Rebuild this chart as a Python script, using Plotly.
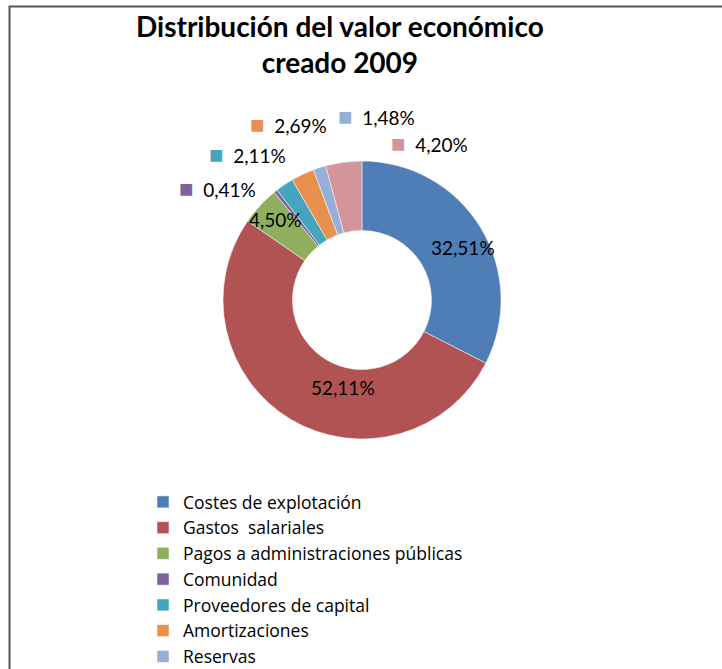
import plotly.graph_objects as go

# ---- data ----
categories = [
    "Costes de explotación",
    "Gastos  salariales",
    "Pagos a administraciones públicas",
    "Comunidad",
    "Proveedores de capital",
    "Amortizaciones",
    "Reservas",
    "Dividendos",
]
values = [32.51, 52.11, 4.50, 0.41, 2.11, 2.69, 1.48, 4.20]
colors = ["#4F7EB7", "#B05352", "#8EB05E", "#7D62A0", "#45A5BC", "#E8914F", "#95AFD8", "#D39599"]
title_text = "Distribución del valor económico<br>creado 2009"

W, H = 722, 669
FONT = "Lato"

def fmt(v):
    return f"{v:.2f}".replace(".", ",") + "%"

# label layout (pixel positions from top-left), inside vs outside with key
label_pos = [(463, 247), (343, 387), (275, 219), (217, 187), (247, 153), (288, 124), (376, 115), (429, 142)]
label_key = [False, False, False, True, True, True, True, True]

cx, cy, r = 362, 300, 139

fig = go.Figure(go.Pie(
    labels=categories,
    values=values,
    hole=0.5,
    sort=False,
    direction="clockwise",
    rotation=0,
    marker=dict(colors=colors, line=dict(color="white", width=0.5)),
    textinfo="none",
    hoverinfo="label+percent",
    domain=dict(x=[(cx - r) / W, (cx + r) / W], y=[(H - cy - r) / H, (H - cy + r) / H]),
))

annotations = []
for v, c, (px, py), key in zip(values, colors, label_pos, label_key):
    txt = fmt(v)
    if key:
        txt = f"<span style='color:{c};font-size:24px'>■</span>  " + txt
    annotations.append(dict(
        x=px / W, y=1 - py / H, xref="paper", yref="paper",
        text=txt, showarrow=False, xanchor="center", yanchor="middle",
        font=dict(family=FONT, size=19, color="#000000"),
    ))

annotations.append(dict(
    x=340 / W, y=1 - 44 / H, xref="paper", yref="paper",
    text="<b>" + title_text + "</b>", showarrow=False, xanchor="center", yanchor="middle",
    font=dict(family=FONT, size=28, color="#000000"),
))

fig.update_layout(
    width=W, height=H,
    margin=dict(l=0, r=0, t=0, b=0, autoexpand=False),
    paper_bgcolor="white",
    plot_bgcolor="white",
    showlegend=True,
    legend=dict(
        x=143 / W, y=1 - 484 / H, xanchor="left", yanchor="top",
        font=dict(family="Open Sans", size=17.5, color="#000000"),
        bgcolor="rgba(0,0,0,0)",
        traceorder="normal",
    ),
    annotations=annotations,
    shapes=[dict(
        type="rect", xref="paper", yref="paper",
        x0=9.5 / W, x1=1.2, y0=-0.2, y1=1 - 6.5 / H,
        line=dict(color="#555555", width=2),
    )],
)

fig.write_html(
    "out.html",
    config={"displayModeBar": False},
    post_script="document.body.style.margin='0';document.body.style.overflow='hidden';",
)
